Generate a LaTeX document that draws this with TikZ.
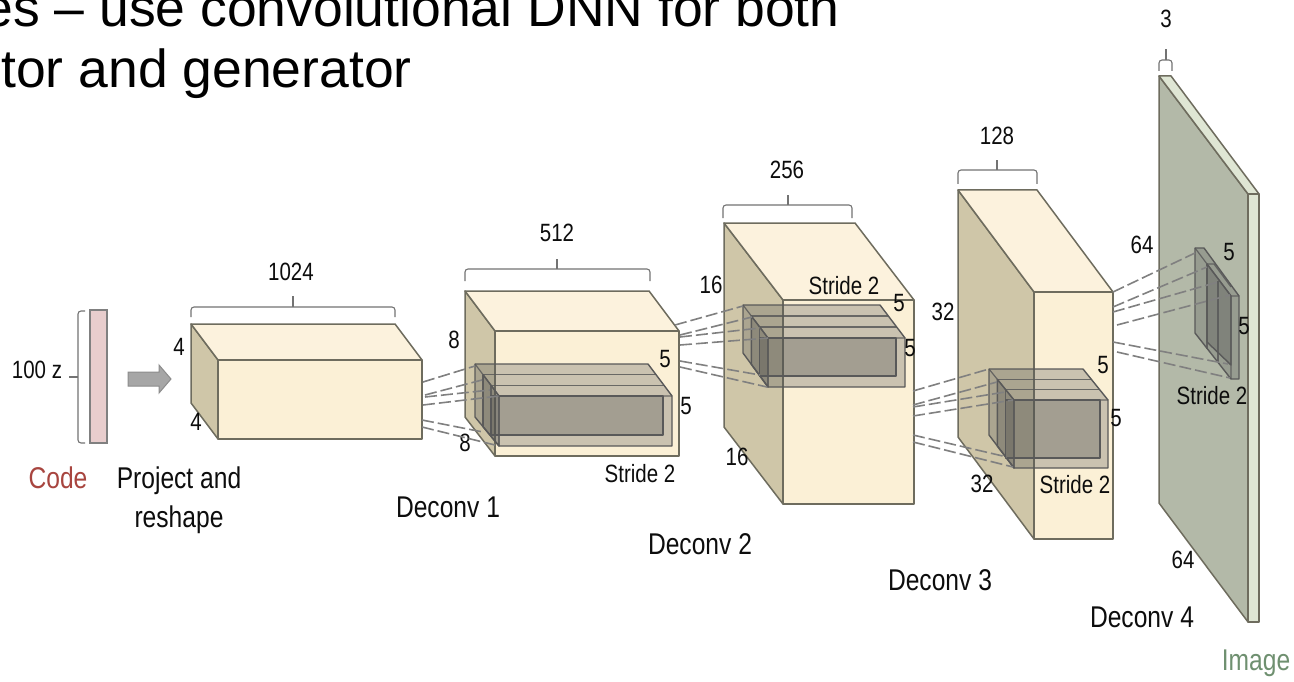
\documentclass[tikz,border=0pt]{standalone}
\usepackage{fontspec}
\setmainfont{Liberation Sans}
\newfontfamily\labfont[FakeStretch=0.82]{Liberation Sans}
\definecolor{front}{HTML}{FBF0D6}
\definecolor{topf}{HTML}{FCF2DD}
\definecolor{leftf}{HTML}{CFC6A8}
\definecolor{edge}{HTML}{6E6C5E}
\definecolor{plate}{HTML}{B3B9A8}
\definecolor{plateside}{HTML}{DFE6D4}
\definecolor{codebar}{HTML}{E8CDCD}
\definecolor{codered}{HTML}{A8453F}
\definecolor{imggreen}{HTML}{6F9070}
\tikzset{
  face/.style={draw=edge,line width=1.5pt,line join=round},
  brk/.style={draw=black!55,line width=1.1pt,rounded corners=3pt},
  tick/.style={draw=black!55,line width=1.1pt},
  dsh/.style={draw=black!50,line width=1.6pt,dash pattern=on 12pt off 4pt},
  lab/.style={font=\labfont\fontsize{25}{25}\selectfont,inner sep=0pt,text=black!95},
  big/.style={font=\labfont\fontsize{30}{30}\selectfont,inner sep=0pt,text=black!95},
  title/.style={font=\fontsize{53.5}{53.5}\selectfont,inner sep=0pt,text=black},
  glass/.style={draw=black!65,line width=1.4pt,fill=black!65,fill opacity=.30,line join=round},
  glassd/.style={draw=black!65,line width=1.4pt,fill=black!70,fill opacity=.30,line join=round},
  glassl/.style={draw=black!65,draw opacity=.85,line width=1.2pt},
}
% x-back, y-back, x-back-right, x-front, y-front, y-bottom, y-back-bottom, dark right, dark bottom
\newcommand\convbox[9]{%
  \pgfmathsetmacro\cbdx{#4-#1}\pgfmathsetmacro\cbdy{#5-#2}%
  \pgfmathsetmacro\cbr{#3+\cbdx}%
  \pgfmathsetmacro\cbxa{#1+\cbdx/3}\pgfmathsetmacro\cbxb{#1+2*\cbdx/3}%
  \pgfmathsetmacro\cbya{#2+\cbdy/3}\pgfmathsetmacro\cbyb{#2+2*\cbdy/3}%
  \pgfmathsetmacro\cbra{#3+\cbdx/3}\pgfmathsetmacro\cbrb{#3+2*\cbdx/3}%
  \pgfmathsetmacro\cbba{#7+(#6-#7)/3}\pgfmathsetmacro\cbbb{#7+2*(#6-#7)/3}%
  \path[glass] (#1,#2) -- (#3,#2) -- (\cbr,#5) -- (\cbr,#6) -- (#4,#6) -- (#1,#7) -- cycle;
  \path[glassd] (\cbxa,\cbya) -- (#4,#5) -- (#4,#6) -- (\cbxa,\cbba) -- cycle;
  \path[glassd] (\cbxb,#5) rectangle (#8,#9);
  \draw[glassl] (\cbxa,\cbya) -- (\cbra,\cbya) (\cbxb,\cbyb) -- (\cbrb,\cbyb);
  \draw[glassl] (\cbxa,\cbya) -- (\cbxa,\cbba) (\cbxb,\cbyb) -- (\cbxb,\cbbb);
  \draw[glassl] (#1,#2) -- (#4,#5) -- (\cbr,#5) (#4,#5) -- (#4,#6);
}
\newcommand\blockbox[8]{% back x, back y, back right x, front x, front y, bottom y, back bottom y
  \pgfmathsetmacro\bbr{#3+#4-#1}%
  \path[face,fill=leftf] (#1,#2) -- (#4,#5) -- (#4,#6) -- (#1,#7) -- cycle;
  \path[face,fill=topf] (#1,#2) -- (#3,#2) -- (\bbr,#5) -- (#4,#5) -- cycle;
  \path[face,fill=#8] (#4,#5) rectangle (\bbr,#6);
}
\begin{document}
\begin{tikzpicture}[x=1pt,y=-1pt]
\useasboundingbox (0,0) rectangle (1294,682);
\fill[white] (0,0) rectangle (1294,682);
\begin{scope}
\clip (0,0) rectangle (1294,682);
\node[title,anchor=base east] (t1) at (840,27) {es – use convolutional DNN for both};
\node[title,anchor=base east] (t2) at (412,88) {tor and generator};
\end{scope}

% code vector
\draw[draw=black!50,line width=1.3pt,fill=codebar] (90,310) rectangle (107,443);
\draw[brk] (85,311) -- (78,311) -- (78,443) -- (85,443);
\draw[tick] (78,377) -- (69,377);
\node[lab] (z) at (37,370) {100 z};
\node[big,text=codered] (code) at (58,478) {Code};
\node[big] (pr1) at (179,481) {Project and};
\node[big] (pr2) at (179,520) {reshape};
% arrow
\draw[draw=black!45,line width=1pt,fill=black!35] (128,372) -- (159,372) -- (159,365) -- (171,379) -- (159,393) -- (159,386) -- (128,386) -- cycle;

% block 1
\blockbox{191}{324}{395}{218}{360}{439}{403}{front}
\draw[brk] (191,317) -- (191,307) -- (395,307) -- (395,317);
\draw[tick] (293,307) -- (293,296);
\node[lab] (n1024) at (291,272) {1024};
\node[lab] (a4) at (179,347) {4};
\node[lab] (b4) at (196,422) {4};

% block 2
\blockbox{465}{291}{649}{495}{331}{456}{417}{front}
\convbox{475}{364}{648}{499}{396}{446}{417}{663}{435}
\draw[brk] (465,281) -- (465,269) -- (650,269) -- (650,281);
\draw[tick] (557,269) -- (557,259);
\node[lab] (n512) at (557,233) {512};
\node[lab] (a8) at (454,340) {8};
\node[lab] (b8) at (465,443) {8};
\node[lab] (c5a) at (665,359) {5};
\node[lab] (c5b) at (686,406) {5};
\node[lab] (s1) at (640,474) {Stride 2};
\node[big] (d1) at (448,507) {Deconv 1};
\draw[dsh] (423,382) -- (475,366);
\draw[dsh] (425,395) -- (482,380);
\draw[dsh] (425,397) -- (490,390);
\draw[dsh] (423,405) -- (499,396);
\draw[dsh] (422,420) -- (483,432);
\draw[dsh] (422,427) -- (495,445);

% block 3
\blockbox{724}{223}{855}{783}{300}{504}{427}{front}
\convbox{743}{305}{880}{768}{338}{387}{353}{896}{376}
\draw[brk] (723,218) -- (723,205) -- (852,205) -- (852,218);
\draw[tick] (788,205) -- (788,195);
\node[lab] (n256) at (787,170) {256};
\node[lab] (a16) at (711,285) {16};
\node[lab] (b16) at (737,457) {16};
\node[lab] (s2) at (844,286) {Stride 2};
\node[lab] (e5a) at (899,303) {5};
\node[lab] (e5b) at (910,348) {5};
\node[big] (d2) at (700,544) {Deconv 2};
\draw[dsh] (675,325) -- (743,306);
\draw[dsh] (680,335) -- (752,317);
\draw[dsh] (680,337) -- (760,328);
\draw[dsh] (680,345) -- (768,338);
\draw[dsh] (680,361) -- (760,375);
\draw[dsh] (680,367) -- (767,387);

% block 4
\blockbox{958}{190}{1037}{1034}{292}{539}{437}{front}
\convbox{989}{369}{1083}{1014}{400}{468}{435}{1100}{458}
\draw[brk] (958,184) -- (958,170) -- (1037,170) -- (1037,184);
\draw[tick] (997,170) -- (997,160);
\node[lab] (n128) at (997,136) {128};
\node[lab] (a32) at (943,312) {32};
\node[lab] (b32) at (982,484) {32};
\node[lab] (f5a) at (1103,365) {5};
\node[lab] (f5b) at (1116,418) {5};
\node[lab] (s3) at (1075,485) {Stride 2};
\node[big] (d3) at (940,580) {Deconv 3};
\draw[dsh] (913,391) -- (989,369);
\draw[dsh] (913,405) -- (997,382);
\draw[dsh] (913,407) -- (1005,392);
\draw[dsh] (913,416) -- (1013,400);
\draw[dsh] (913,435) -- (1007,457);
\draw[dsh] (913,442) -- (1013,467);

% image plate
\path[face,fill=plate] (1159,76) -- (1248,194) -- (1248,622) -- (1159,503) -- cycle;
\path[face,fill=plateside] (1159,76) -- (1171,76) -- (1259,194) -- (1248,194) -- cycle;
\path[face,fill=plateside] (1248,194) rectangle (1259,622);
\draw[brk] (1159,71) -- (1159,60) -- (1172,60) -- (1172,71);
\draw[tick] (1166,60) -- (1166,49);
\node[lab] (n3) at (1166,19) {3};
% small filter on plate
\path[glass] (1195,248) -- (1204,248) -- (1239,296) -- (1239,379) -- (1231,379) -- (1195,333) -- cycle;
\path[glassd] (1207,264) -- (1231,296) -- (1231,365) -- (1207,342) -- cycle;
\draw[glassl] (1195,248) -- (1231,296) -- (1239,296) (1231,296) -- (1231,379);
\draw[glassl] (1207,264) -- (1207,349) (1218,281) -- (1218,363);
\draw[glassl] (1207,264) -- (1214,264) -- (1231,287);
\node[lab] (h64a) at (1142,245) {64};
\node[lab] (h64b) at (1183,560) {64};
\node[lab] (g5a) at (1229,252) {5};
\node[lab] (g5b) at (1244,326) {5};
\node[lab] (s4) at (1212,396) {Stride 2};
\node[big] (d4) at (1142,617) {Deconv 4};
\node[big,text=imggreen] (img) at (1256,663) {Image};
\draw[dsh] (1113,292) -- (1195,253);
\draw[dsh] (1113,307) -- (1207,267);
\draw[dsh] (1113,312) -- (1218,282);
\draw[dsh] (1117,325) -- (1230,295);
\draw[dsh] (1113,342) -- (1228,364);
\draw[dsh] (1117,352) -- (1230,378);
\end{tikzpicture}
\end{document}
